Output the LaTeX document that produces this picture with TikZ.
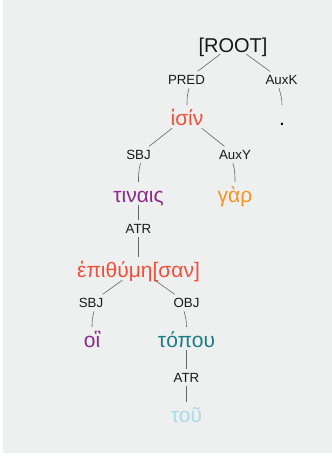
\documentclass[tikz,border=0pt]{standalone}
\usepackage{fontspec}
\setmainfont{Liberation Sans}
\definecolor{bgc}{HTML}{EEEFEF}
\definecolor{cred}{HTML}{F0503A}
\definecolor{cpurple}{HTML}{8C2A8C}
\definecolor{corange}{HTML}{F7931E}
\definecolor{cteal}{HTML}{1B7C83}
\definecolor{clblue}{HTML}{A8DCE8}
\definecolor{cline}{HTML}{666666}
\tikzset{
  rootnode/.style={anchor=base, inner sep=0pt, text height=17pt, text depth=2pt, font=\fontsize{20}{24}\selectfont, text=black!90},
  word/.style={anchor=base, inner sep=0pt, text height=20pt, text depth=3pt, font=\fontsize{21}{25}\selectfont},
  rel/.style={anchor=base, inner sep=0pt, text height=12.5pt, text depth=4pt, font=\fontsize{13.3}{16}\selectfont, text=black!90},
  edge/.style={draw=cline, line width=0.6pt},
}
\begin{document}
\begin{tikzpicture}[x=1pt,y=-1pt]
\useasboundingbox (0,0) rectangle (332,456);
\fill[white] (0,0) rectangle (332,456);
\fill[bgc] (3,0) rectangle (332,453);

\node[rootnode] (root) at (233,52) {[ROOT]};
\node[rel] (pred) at (186.5,84) {PRED};
\node[rel] (auxk) at (281.5,84) {AuxK};
\node[word, text=cred] (isin) at (187,125) {ἰσίν};
\node[word, text=black] (dot) at (282,125) {.};
\node[rel] (sbj1) at (138.5,159) {SBJ};
\node[rel] (auxy) at (235,159) {AuxY};
\node[word, text=cpurple] (tinais) at (138.5,202) {τιναις};
\node[word, text=corange] (gar) at (235,202) {γὰρ};
\node[rel] (atr1) at (138.5,233) {ATR};
\node[word, text=cred] (epith) at (138.5,277) {ἐπιθύμη[σαν]};
\node[rel] (sbj2) at (91,307) {SBJ};
\node[rel] (obj) at (186.5,307) {OBJ};
\node[word, text=cpurple] (hoi) at (92,347) {οἳ};
\node[word, text=cteal] (topou) at (186.5,347) {τόπου};
\node[rel] (atr2) at (186.5,382) {ATR};
\node[word, text=clblue] (tou) at (186.5,422) {τοῦ};

% parent -> relation label
\draw[edge] (root) -- (pred);
\draw[edge] (root) -- (auxk);
\draw[edge] (isin) -- (sbj1);
\draw[edge] (isin) -- (auxy);
\draw[edge] (tinais) -- (atr1);
\draw[edge] (epith) -- (sbj2);
\draw[edge] (epith) -- (obj);
\draw[edge] (topou) -- (atr2);

% relation label -> child
\draw[edge] ([xshift=2.5pt]pred.south) to[out=-105,in=90] (isin.north);
\draw[edge] ([xshift=-2.5pt]auxk.south) to[out=-75,in=90] (dot.north);
\draw[edge] ([xshift=2pt]sbj1.south) to[out=-105,in=90] (tinais.north);
\draw[edge] ([xshift=-2pt]auxy.south) to[out=-75,in=90] (gar.north);
\draw[edge] (atr1) -- (epith);
\draw[edge] ([xshift=3pt]sbj2.south) to[out=-105,in=90] (hoi.north);
\draw[edge] ([xshift=-2.5pt]obj.south) to[out=-75,in=90] (topou.north);
\draw[edge] (atr2) -- (tou);
\end{tikzpicture}
\end{document}
